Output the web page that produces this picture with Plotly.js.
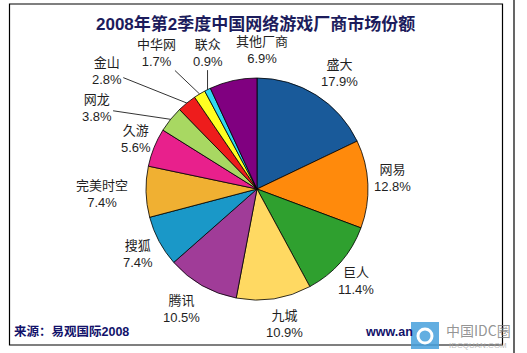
<!DOCTYPE html>
<html>
<head>
<meta charset="utf-8">
<script src="https://cdn.plot.ly/plotly-3.0.1.min.js"></script>
<style>html,body{margin:0;padding:0;background:#fff;}#chart{width:527px;height:353px;}</style>
</head>
<body>
<div id="chart"></div>
<script>
// ---- data ----
const categories = ["盛大","网易","巨人","九城","腾讯","搜狐","完美时空","久游","网龙","金山","中华网","联众","其他厂商"];
const shares = [17.9, 12.8, 11.4, 10.9, 10.5, 7.4, 7.4, 5.6, 3.8, 2.8, 1.7, 0.9, 6.9];
const shareLabels = ["17.9%","12.8%","11.4%","10.9%","10.5%","7.4%","7.4%","5.6%","3.8%","2.8%","1.7%","0.9%","6.9%"];
const colors = ["#195a9a","#ff8a0c","#2fa02f","#ffd962","#a03c98","#1a98c8","#f0b032","#e8208c","#a8d862","#ee1c1c","#ffff22","#30d8f0","#800080"];
const titleText = "2008年第2季度中国网络游戏厂商市场份额";
const sourceText = "来源：易观国际2008";

// ---- layout config (label placement, pixels) ----
const W = 527, H = 353;
const C = {x: 257, y: 189}, R = 111;
// [dx, dy, leader] : label offset from slice edge midpoint
const labelPlace = [
  [23,-22,false],[25,-6,false],[15,19,false],[10,25,false],[-21,24,false],
  [-21,13,false],[-44,2,false],[-18,-8,false],
  [-74,-11,true],[-80,-32,true],[-43,-41,true],[0,-37,true],[29,-31,false]
];
const px = x => x / W, py = y => 1 - y / H;

const total = shares.reduce((a,b)=>a+b,0);
const annotations = [];
let cum = 0;
const labelFont = {family: "Arial, 'Liberation Sans', 'Noto Sans CJK SC'", size: 13, color: "#1f1f1f"};
shares.forEach((v,i)=>{
  const mid = (cum + v/2) / total * 2 * Math.PI;
  cum += v;
  const ex = C.x + R * Math.sin(mid), ey = C.y - R * Math.cos(mid);
  const [dx, dy, leader] = labelPlace[i];
  const txt = categories[i] + "<br>" + shareLabels[i];
  if (leader) {
    annotations.push({xref:'paper', yref:'paper', x: px(ex), y: py(ey), ax: dx, ay: dy,
      text: txt, showarrow: true, arrowhead: 0, arrowwidth: 0.8, arrowcolor: '#000', standoff: 0,
      font: labelFont, align: 'center'});
  } else {
    annotations.push({xref:'paper', yref:'paper', x: px(ex+dx), y: py(ey+dy), xanchor:'center', yanchor:'middle',
      text: txt, showarrow: false, font: labelFont, align: 'center'});
  }
});

// title
annotations.push({xref:'paper', yref:'paper', x: px(255), y: py(24), xanchor:'center', yanchor:'middle', showarrow:false,
  text: "<b>" + titleText + "</b>", font: {family: "Arial, 'Noto Sans CJK SC'", size: 17, color: "#1c1c5c"}});
// source
annotations.push({xref:'paper', yref:'paper', x: px(12), y: py(331), xanchor:'left', yanchor:'middle', showarrow:false,
  text: "<b>" + sourceText + "</b>", font: {family: "Arial, 'Noto Sans CJK SC'", size: 12.5, color: "#12126a"}});
annotations.push({xref:'paper', yref:'paper', x: px(363), y: py(332), xanchor:'left', yanchor:'middle', showarrow:false,
  text: "<b>www.an</b>", font: {family: "Arial, 'Liberation Sans'", size: 12.5, color: "#12126a"}});
// watermark
annotations.push({xref:'paper', yref:'paper', x: px(478), y: py(330), xanchor:'center', yanchor:'middle', showarrow:false,
  text: "中国IDC圈", font: {family: "'Noto Sans CJK SC', Arial", size: 14, color: "rgba(120,120,120,0.8)"}});
annotations.push({xref:'paper', yref:'paper', x: px(478), y: py(345), xanchor:'center', yanchor:'middle', showarrow:false,
  text: "IDCQUAN.COM", font: {family: "Arial", size: 8, color: "rgba(170,170,170,0.8)"}});

const shapes = [
  {type:'rect', xref:'paper', yref:'paper', x0: px(9.5), x1: px(502.5), y0: py(345), y1: py(4),
   line:{color:'#000', width:1.2}, fillcolor:'rgba(0,0,0,0)'},
  {type:'line', xref:'paper', yref:'paper', x0: px(514), x1: px(514), y0: py(0), y1: py(353),
   line:{color:'#000', width:1.2}},
  {type:'rect', xref:'paper', yref:'paper', x0: px(411), x1: px(439), y0: py(349), y1: py(322),
   line:{width:0}, fillcolor:'rgba(70,160,220,0.85)'},
  {type:'circle', xref:'paper', yref:'paper', x0: px(418), x1: px(432), y0: py(343), y1: py(329),
   line:{color:'#fff', width:3}, fillcolor:'rgba(0,0,0,0)'}
];

const trace = {
  type: 'pie',
  labels: categories,
  values: shares,
  sort: false,
  direction: 'clockwise',
  rotation: 0,
  textinfo: 'none',
  hoverinfo: 'label+percent',
  marker: {colors: colors, line: {color: '#000', width: 0.8}},
  domain: {x: [px(C.x - R), px(C.x + R)], y: [py(C.y + R), py(C.y - R)]},
  showlegend: false
};

Plotly.newPlot('chart', [trace], {
  width: W, height: H,
  margin: {l:0, r:0, t:0, b:0},
  paper_bgcolor: '#fff',
  showlegend: false,
  annotations: annotations,
  shapes: shapes
}, {staticPlot: true});
</script>
</body>
</html>
